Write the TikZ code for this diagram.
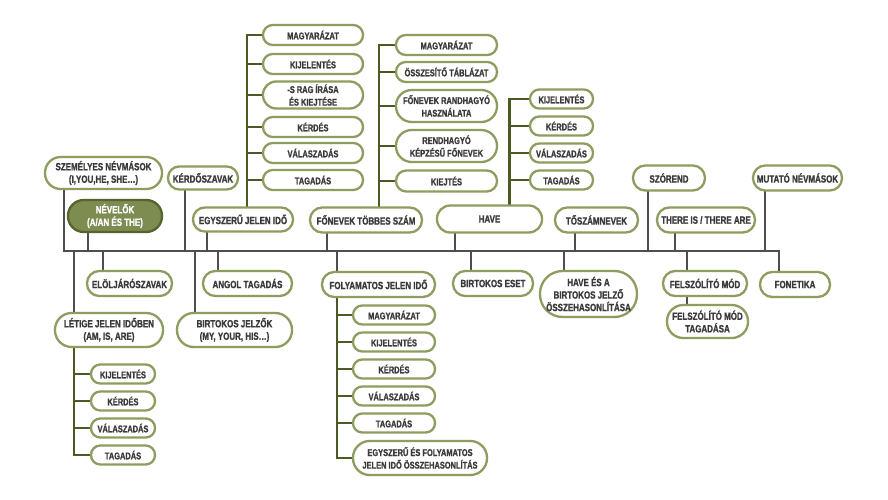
\documentclass[tikz,border=0pt]{standalone}
\usepackage{fontspec}
\newfontfamily\boxfont{Liberation Sans Bold}[FakeStretch=0.76, FakeBold=1.2]
\usetikzlibrary{backgrounds}
\definecolor{bgreen}{HTML}{8C9D5F}
\definecolor{olivec}{HTML}{4B5A23}
\definecolor{trunkc}{HTML}{4E4E4E}
\definecolor{txt}{HTML}{3A3A3A}
\definecolor{nfill}{HTML}{7D8C50}
\definecolor{nborder}{HTML}{56632E}
\tikzset{
 bx/.style 2 args={draw=bgreen, line width=2.3pt, fill=white, text=txt, inner sep=0pt, align=center,
   minimum width=#1pt, minimum height=#2pt, rounded corners={#2*0.49pt},
   font=\boxfont\fontsize{10.5}{12.5}\selectfont},
 cbx/.style 2 args={bx={#1}{#2}, font=\boxfont\fontsize{9.8}{12.6}\selectfont},
 trunk/.style={draw=trunkc, line width=2.4pt, line join=miter},
 branch/.style={draw=olivec, line width=2.4pt, line join=miter},
}
\begin{document}
\begin{tikzpicture}[x=1pt,y=-1pt]
\useasboundingbox (0,0) rectangle (888,500);
\begin{scope}[on background layer]
\fill[white] (0,0) rectangle (888,500);
\end{scope}

% ---------- top nodes ----------
\node[bx={117}{32}] (szem) at (103.5,173) {SZEMÉLYES NÉVMÁSOK\\(I,YOU,HE, SHE…)};
\node[bx={94}{32}, fill=nfill, draw=nborder, text=white] (nevelo) at (115,216) {NÉVELŐK\\(A/AN ÉS THE)};
\node[bx={70}{23}] (kerdo) at (203,178) {KÉRDŐSZAVAK};
\node[bx={100}{24}] (egy) at (243,219.5) {EGYSZERŰ JELEN IDŐ};
\node[bx={112}{25}] (fonev) at (366,220) {FŐNEVEK TÖBBES SZÁM};
\node[bx={105}{27}] (have) at (489.5,219) {HAVE};
\node[bx={83}{25}] (toszam) at (596.5,220) {TŐSZÁMNEVEK};
\node[bx={72}{25}] (szorend) at (669,178) {SZÓREND};
\node[bx={98}{25}] (there) at (706,220) {THERE IS / THERE ARE};
\node[bx={89}{25}] (mutato) at (797.5,178) {MUTATÓ NÉVMÁSOK};

% egyszerű children
\node[cbx={100}{20}] (egy1) at (313,35) {MAGYARÁZAT};
\node[cbx={100}{20}] (egy2) at (313,64) {KIJELENTÉS};
\node[cbx={100}{27}] (egy3) at (313,95) {-S RAG ÍRÁSA\\ÉS KIEJTÉSE};
\node[cbx={100}{20}] (egy4) at (313,127) {KÉRDÉS};
\node[cbx={100}{20}] (egy5) at (313,153) {VÁLASZADÁS};
\node[cbx={100}{20}] (egy6) at (313,180) {TAGADÁS};

% főnevek children
\node[cbx={101}{20}] (fon1) at (446.5,45) {MAGYARÁZAT};
\node[cbx={101}{20}] (fon2) at (446.5,72) {ÖSSZESÍTŐ TÁBLÁZAT};
\node[cbx={101}{32}] (fon3) at (446.5,106) {FŐNEVEK RANDHAGYÓ\\HASZNÁLATA};
\node[cbx={101}{32}] (fon4) at (446.5,146) {RENDHAGYÓ\\KÉPZÉSŰ FŐNEVEK};
\node[cbx={101}{21}] (fon5) at (446.5,181) {KIEJTÉS};

% have children
\node[cbx={63}{19}] (hav1) at (561.5,99) {KIJELENTÉS};
\node[cbx={63}{19}] (hav2) at (561.5,126) {KÉRDÉS};
\node[cbx={63}{19}] (hav3) at (561.5,153) {VÁLASZADÁS};
\node[cbx={63}{19}] (hav4) at (561.5,180) {TAGADÁS};

% ---------- bottom nodes ----------
\node[bx={85}{25}] (elolj) at (129.5,283.5) {ELÖLJÁRÓSZAVAK};
\node[bx={89}{25}] (angol) at (247.5,283.5) {ANGOL TAGADÁS};
\node[bx={108}{34}] (letige) at (109,330) {LÉTIGE JELEN IDŐBEN\\(AM, IS, ARE)};
\node[bx={115}{34}] (birtj) at (234.5,330) {BIRTOKOS JELZŐK\\(MY, YOUR, HIS…)};
\node[bx={113}{25}] (folyam) at (378.5,284.5) {FOLYAMATOS JELEN IDŐ};
\node[bx={80}{25}] (birte) at (493,283.5) {BIRTOKOS ESET};
\node[bx={97}{46}] (havea) at (588.5,294) {HAVE ÉS A\\BIRTOKOS JELZŐ\\ÖSSZEHASONLÍTÁSA};
\node[bx={84}{25}] (felsz) at (705,283.5) {FELSZÓLÍTÓ MÓD};
\node[bx={81}{33}] (felszt) at (707.5,321.5) {FELSZÓLÍTÓ MÓD\\TAGADÁSA};
\node[bx={70}{25}] (fonet) at (795,284.5) {FONETIKA};

% létige children
\node[cbx={64}{19}] (let1) at (123,374) {KIJELENTÉS};
\node[cbx={64}{19}] (let2) at (123,401) {KÉRDÉS};
\node[cbx={64}{19}] (let3) at (123,428) {VÁLASZADÁS};
\node[cbx={64}{19}] (let4) at (123,455) {TAGADÁS};

% folyamatos children
\node[cbx={82}{19}] (fol1) at (394,315) {MAGYARÁZAT};
\node[cbx={82}{19}] (fol2) at (394,342) {KIJELENTÉS};
\node[cbx={82}{19}] (fol3) at (394,369) {KÉRDÉS};
\node[cbx={82}{19}] (fol4) at (394,396) {VÁLASZADÁS};
\node[cbx={82}{19}] (fol5) at (394,423) {TAGADÁS};
\node[cbx={134}{34}] (fol6) at (420,458) {EGYSZERŰ ÉS FOLYAMATOS\\JELEN IDŐ ÖSSZEHASONLÍTÁS};

% ---------- junction coordinates on the main line ----------
\coordinate (jL) at (64,251);
\coordinate (jR) at (779,251);
\coordinate (jlet) at (74,251);
\coordinate (jnev) at (88,251);
\coordinate (jelo) at (103,251);
\coordinate (jker) at (185,251);
\coordinate (jbir) at (195,251);
\coordinate (jegy) at (207,251);
\coordinate (jang) at (218,251);
\coordinate (jfon) at (327,251);
\coordinate (jfol) at (337,251);
\coordinate (jhav) at (455,251);
\coordinate (jbte) at (471,251);
\coordinate (jhea) at (564,251);
\coordinate (jtos) at (575,251);
\coordinate (jszo) at (648,251);
\coordinate (jthe) at (675,251);
\coordinate (jfel) at (687,251);
\coordinate (jmut) at (765,251);
% branch lines
\coordinate (begy) at (247,35);
\coordinate (bfon) at (379,45);
\coordinate (bhav) at (509.5,99);
\coordinate (blet) at (74,455);
\coordinate (bfol) at (337,458);

\begin{scope}[on background layer]
% main line
\draw[trunk] (szem.center -| jL) -- (jL) -- (jR) -- (fonet.center -| jR);
% top stems
\foreach \n/\j in {nevelo/jnev, kerdo/jker, egy/jegy, fonev/jfon, have/jhav, toszam/jtos, szorend/jszo, there/jthe, mutato/jmut}
  \draw[trunk] (\n.center -| \j) -- (\j);
% bottom stems
\foreach \n/\j in {letige/jlet, elolj/jelo, birtj/jbir, angol/jang, folyam/jfol, birte/jbte, havea/jhea, felsz/jfel}
  \draw[trunk] (\j) -- (\n.center -| \j);
\draw[trunk] (felsz.center -| jfel) -- (felszt.center -| jfel);
% egyszerű branch
\draw[branch] (egy1.west) -- (egy1.west -| begy) -- (egy.center -| begy);
\foreach \c in {egy2,egy3,egy4,egy5,egy6} \draw[branch] (\c.west) -- (\c.west -| begy);
% főnevek branch
\draw[branch] (fon1.west) -- (fon1.west -| bfon) -- (fonev.center -| bfon);
\foreach \c in {fon2,fon3,fon4,fon5} \draw[branch] (\c.west) -- (\c.west -| bfon);
% have branch
\draw[branch] (hav1.west) -- (hav1.west -| bhav) -- (have.center -| bhav);
\foreach \c in {hav2,hav3,hav4} \draw[branch] (\c.west) -- (\c.west -| bhav);
% létige branch
\draw[branch] (letige.center -| blet) -- (let4.west -| blet) -- (let4.west);
\foreach \c in {let1,let2,let3} \draw[branch] (\c.west) -- (\c.west -| blet);
% folyamatos branch
\draw[branch] (folyam.center -| bfol) -- (fol6.west -| bfol) -- (fol6.west);
\foreach \c in {fol1,fol2,fol3,fol4,fol5} \draw[branch] (\c.west) -- (\c.west -| bfol);
\end{scope}
\end{tikzpicture}
\end{document}
